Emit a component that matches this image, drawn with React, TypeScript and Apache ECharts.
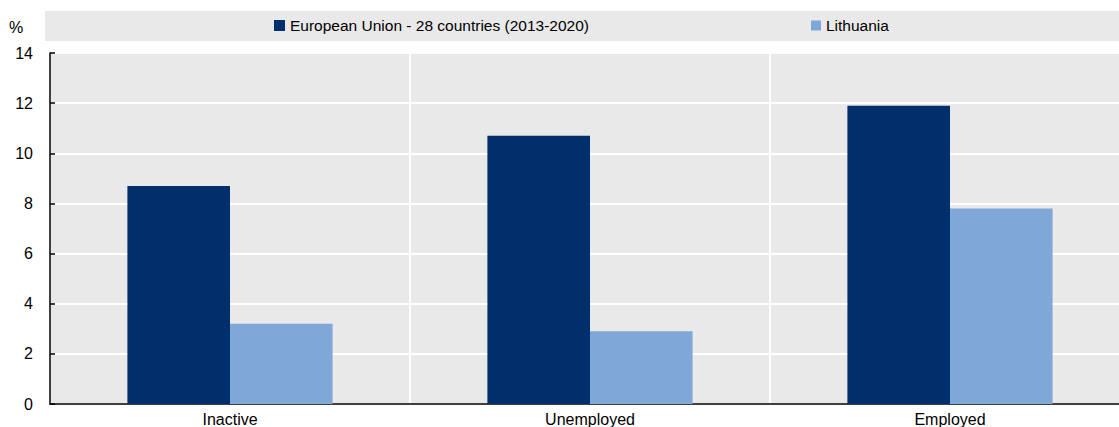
import React, { useEffect, useRef } from "react";
import * as echarts from "echarts";

const categories = ["Inactive", "Unemployed", "Employed"];
const euValues = [8.7, 10.7, 11.9];
const ltValues = [3.2, 2.9, 7.8];
const seriesNames = ["European Union - 28 countries (2013-2020)", "Lithuania"];
const yTicks = [0, 2, 4, 6, 8, 10, 12, 14];

const FONT = "'Liberation Sans Narrow', 'Arial Narrow', 'Liberation Sans', Arial, sans-serif";

export default function App() {
  const ref = useRef<HTMLDivElement>(null);
  useEffect(() => {
    if (!ref.current) return;
    const chart = echarts.init(ref.current, undefined, { renderer: "svg" });
    chart.setOption({
      animation: false,
      textStyle: { fontFamily: FONT },
      graphic: [
        {
          type: "rect",
          shape: { x: 45, y: 11, width: 1100, height: 30 },
          style: { fill: "#e9e9e9" },
          z: -1,
        },
        {
          type: "text",
          x: 9,
          y: 19,
          style: { text: "%", font: `16px ${FONT}`, fill: "#000" },
        },
      ],
      legend: [
        {
          data: [seriesNames[0]],
          left: 274,
          top: 17.5,
          padding: 0,
          itemWidth: 11,
          itemHeight: 11,
          icon: "rect",
          textStyle: { fontSize: 15.5, color: "#000", fontFamily: FONT },
        },
        {
          data: [seriesNames[1]],
          left: 811,
          top: 17.5,
          padding: 0,
          itemWidth: 10,
          itemHeight: 10,
          icon: "rect",
          textStyle: { fontSize: 15.5, color: "#000", fontFamily: FONT },
        },
      ],
      grid: {
        left: 50,
        top: 53,
        width: 1080,
        height: 351,
        show: true,
        backgroundColor: "#e9e9e9",
        borderWidth: 0,
      },
      xAxis: {
        type: "category",
        data: categories,
        axisLine: { lineStyle: { color: "#000", width: 1.5 } },
        axisTick: { inside: true, length: 6, lineStyle: { color: "#000", width: 1.5 } },
        axisLabel: { color: "#000", fontSize: 16, margin: 7, fontFamily: FONT },
        splitLine: { show: true, lineStyle: { color: "#fff", width: 2 } },
      },
      yAxis: {
        type: "value",
        min: 0,
        max: yTicks[yTicks.length - 1],
        interval: 2,
        axisLine: { show: true, lineStyle: { color: "#000", width: 1.5 } },
        axisTick: { show: true, inside: true, length: 5, lineStyle: { color: "#000", width: 1.5 } },
        axisLabel: { color: "#000", fontSize: 16, margin: 17, fontFamily: FONT },
        splitLine: { show: true, lineStyle: { color: "#fff", width: 2 } },
      },
      series: [
        {
          name: seriesNames[0],
          type: "bar",
          data: euValues,
          itemStyle: { color: "#002f6c" },
          barGap: "0%",
          barCategoryGap: "43%",
        },
        {
          name: seriesNames[1],
          type: "bar",
          data: ltValues,
          itemStyle: { color: "#7fa8d9" },
          barGap: "0%",
          barCategoryGap: "43%",
        },
      ],
    });
    return () => chart.dispose();
  }, []);
  return (
    <div
      ref={ref}
      style={{ position: "absolute", left: 0, top: 0, width: 1130, height: 427 }}
    />
  );
}
